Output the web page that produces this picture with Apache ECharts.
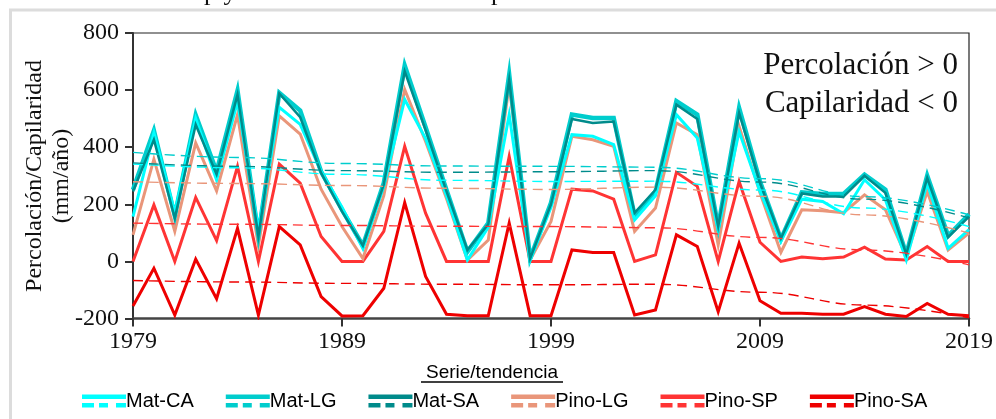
<!DOCTYPE html>
<html>
<head>
<meta charset="utf-8">
<script src="https://cdn.jsdelivr.net/npm/echarts@6/dist/echarts.min.js"></script>
<style>
  html, body { margin: 0; padding: 0; background: #fff; }
  #chart { width: 996px; height: 419px; }
</style>
</head>
<body>
<div id="chart"></div>
<script>
// Annual series, 1979-2019 (mm/año)
const years = [1979, 1980, 1981, 1982, 1983, 1984, 1985, 1986, 1987, 1988,
               1989, 1990, 1991, 1992, 1993, 1994, 1995, 1996, 1997, 1998,
               1999, 2000, 2001, 2002, 2003, 2004, 2005, 2006, 2007, 2008,
               2009, 2010, 2011, 2012, 2013, 2014, 2015, 2016, 2017, 2018, 2019];

const matCA  = [157, 450, 170, 500, 285, 560, 110, 540, 480, 315,
                190, 45, 265, 567, 430, 230, 5, 120, 514, 5,
                190, 444, 438, 409, 145, 230, 514, 432, 111, 455,
                245, 70, 218, 210, 167, 286, 216, 5, 274, 46, 111];
const matLG  = [251, 458, 160, 512, 315, 598, 93, 590, 528, 315,
                181, 55, 275, 686, 470, 250, 34, 134, 654, 10,
                205, 514, 502, 502, 160, 245, 561, 514, 122, 537,
                280, 78, 242, 236, 236, 304, 251, 25, 300, 90, 165];
const matSA  = [245, 426, 152, 479, 305, 584, 88, 588, 505, 310,
                175, 55, 270, 666, 460, 245, 40, 130, 637, 10,
                200, 499, 485, 490, 170, 251, 549, 499, 122, 520,
                275, 80, 238, 227, 227, 300, 240, 25, 292, 85, 157];
const pinoLG = [93, 358, 105, 415, 247, 514, 55, 510, 446, 253,
                122, 10, 230, 602, 420, 220, 5, 75, 620, 5,
                140, 438, 426, 403, 105, 187, 485, 444, 58, 473,
                240, 32, 181, 177, 171, 233, 181, 17, 245, 40, 99];
const pinoSP = [0, 198, 0, 224, 73, 333, 0, 341, 274, 87,
                0, 0, 105, 403, 169, 0, 0, 0, 368, 0,
                0, 253, 247, 218, 0, 23, 312, 263, 0, 280,
                67, 0, 15, 9, 15, 50, 8, 5, 52, 0, 0];
const pinoSA = [-156, -24, -188, 8, -131, 116, -188, 122, 58, -123,
                -191, -190, -94, 206, -53, -185, -190, -190, 134, -190,
                -190, 40, 31, 31, -188, -170, 93, 52, -176, 64,
                -138, -182, -182, -185, -185, -158, -185, -193, -147, -185, -190];

// Smoothed trend curves, sampled every five years
const trendYears  = [1979, 1984, 1989, 1994, 1999, 2004, 2009, 2014, 2019];
const trendMatCA  = [341, 328, 305, 284, 280, 281, 250, 187, 122];
const trendMatLG  = [382, 364, 343, 334, 333, 330, 290, 227, 163];
const trendMatSA  = [345, 333, 318, 312, 314, 318, 278, 218, 152];
const trendPinoLG = [279, 273, 266, 256, 252, 260, 228, 163, 99];
const trendPinoSP = [134, 130, 126, 123, 122, 118, 84, 40, -12];
const trendPinoSA = [-67, -72, -77, -80, -82, -80, -108, -153, -197];

const seriesNames = ['Mat-CA', 'Mat-LG', 'Mat-SA', 'Pino-LG', 'Pino-SP', 'Pino-SA'];
const seriesColors = ['#00FFFF', '#00CDCD', '#008B8B', '#E9967A', '#FF3434', '#EE0000'];
const seriesValues = [matCA, matLG, matSA, pinoLG, pinoSP, pinoSA];
const trendValues = [trendMatCA, trendMatLG, trendMatSA, trendPinoLG, trendPinoSP, trendPinoSA];
const lineWidths = [3, 4.5, 2.5, 3, 3, 3];
// drawing order for the annual lines (bottom to top)
const drawOrder = [5, 4, 3, 1, 0, 2];

const serif = 'Liberation Serif, Times New Roman, serif';
const sans = 'Liberation Sans, Arial, sans-serif';

const series = [];
drawOrder.forEach((k, idx) => {
  series.push({
    name: seriesNames[k],
    type: 'line',
    data: years.map((y, i) => [y, seriesValues[k][i]]),
    showSymbol: false,
    symbol: 'none',
    z: 2 + idx * 0.01,
    lineStyle: { color: seriesColors[k], width: lineWidths[k], join: 'miter' },
    itemStyle: { color: seriesColors[k] },
    emphasis: { disabled: true },
    silent: true
  });
});
seriesNames.forEach((n, k) => {
  series.push({
    name: n + ' tendencia',
    type: 'line',
    data: trendYears.map((y, i) => [y, trendValues[k][i]]),
    showSymbol: false,
    symbol: 'none',
    smooth: 0.4,
    smoothMonotone: 'x',
    z: 3,
    lineStyle: { color: seriesColors[k], width: 1.4, type: [10, 6] },
    itemStyle: { color: seriesColors[k] },
    emphasis: { disabled: true },
    silent: true
  });
});

const chart = echarts.init(document.getElementById('chart'), null, { renderer: 'canvas' });
chart.setOption({
  animation: false,
  backgroundColor: '#fff',
  grid: {
    left: 133, right: 25, top: 33, bottom: 100.5,
    show: true, borderColor: '#222', borderWidth: 1.2
  },
  xAxis: {
    type: 'value',
    min: 1979, max: 2019, interval: 10,
    axisLine: { show: true, onZero: false, lineStyle: { color: '#444', width: 2.5 } },
    axisTick: { show: true, inside: false, length: 8, lineStyle: { color: '#333', width: 2 } },
    splitLine: { show: false },
    axisLabel: {
      formatter: v => String(v),
      fontFamily: serif, fontSize: 24, color: '#111', margin: 11
    }
  },
  yAxis: {
    type: 'value',
    min: -200, max: 800, interval: 200,
    axisLine: { show: true, onZero: false, lineStyle: { color: '#333', width: 2 } },
    axisTick: { show: true, inside: false, length: 8, lineStyle: { color: '#333', width: 2 } },
    splitLine: { show: false },
    axisLabel: { fontFamily: serif, fontSize: 24, color: '#111', margin: 14 }
  },
  legend: {
    left: 82, top: 391, padding: 0,
    itemWidth: 44, itemHeight: 13, itemGap: 32,
    icon: 'path://M0,0H44V4.5H0Z M0,8.5H12V13H0Z M17,8.5H26V13H17Z M34,8.5H44V13H34Z',
    selectedMode: false,
    textStyle: { fontFamily: sans, fontSize: 20, color: '#000', padding: [0, 0, 0, -5] },
    data: seriesNames.map((n, k) => ({ name: n, itemStyle: { color: seriesColors[k], borderWidth: 0 } }))
  },
  graphic: [
    // light frame around the figure
    { type: 'rect', z: 0, silent: true,
      shape: { x: 10.5, y: 10, width: 1000, height: 420 },
      style: { fill: 'none', stroke: '#dcdcdc', lineWidth: 3 } },
    // tail of the caption line above the frame
    { type: 'text', silent: true, x: 204, y: -7,
      style: { text: 'p y', font: '26px ' + serif, fill: '#111', verticalAlign: 'middle' } },
    { type: 'text', silent: true, x: 491, y: -7,
      style: { text: 'p', font: '26px ' + serif, fill: '#111', verticalAlign: 'middle' } },
    // y-axis title, two rotated lines
    { type: 'text', silent: true, x: 48, y: 176, rotation: Math.PI / 2,
      style: { text: 'Percolación/Capilaridad\n(mm/año)', font: '24px ' + serif, fill: '#111',
               align: 'center', verticalAlign: 'middle', lineHeight: 27 } },
    // sign convention note
    { type: 'text', silent: true, x: 958, y: 85,
      style: { text: 'Percolación > 0\nCapilaridad < 0', font: '31px ' + serif, fill: '#111',
               align: 'right', verticalAlign: 'middle', lineHeight: 38 } },
    // legend heading with underline
    { type: 'text', silent: true, x: 492, y: 373,
      style: { text: 'Serie/tendencia', font: '19px ' + sans, fill: '#000',
               align: 'center', verticalAlign: 'middle' } },
    { type: 'line', silent: true,
      shape: { x1: 421, y1: 382, x2: 563, y2: 382 },
      style: { stroke: '#000', lineWidth: 1.5 } }
  ],
  series: series
});
</script>
</body>
</html>
